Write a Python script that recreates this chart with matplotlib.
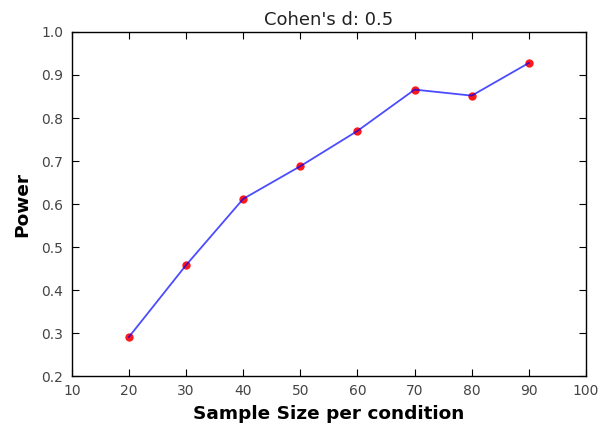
import matplotlib
matplotlib.use("Agg")
import matplotlib.pyplot as plt

sample_sizes = [20, 30, 40, 50, 60, 70, 80, 90]
power = [0.291, 0.458, 0.612, 0.688, 0.770, 0.866, 0.852, 0.928]
x_ticks = [10, 20, 30, 40, 50, 60, 70, 80, 90, 100]
y_ticks = [0.2, 0.3, 0.4, 0.5, 0.6, 0.7, 0.8, 0.9, 1.0]

plt.rcParams['font.family'] = ['DejaVu Sans']

fig = plt.figure(figsize=(5.98, 4.26), dpi=100)
ax = fig.add_axes([0.120, 0.117, 0.860, 0.808])

ax.plot(sample_sizes, power, 'o', color='red', markersize=6, markeredgewidth=0, alpha=0.9)
ax.plot(sample_sizes, power, '-', color='blue', linewidth=1.3, alpha=0.7)

ax.set_xlim(10, 100)
ax.set_ylim(0.2, 1.0)
ax.set_xticks(x_ticks)
ax.set_yticks(y_ticks)
ax.set_yticklabels([f"{v:.1f}" for v in y_ticks])
ax.tick_params(direction='in', top=True, right=True, length=5, width=0.8,
               labelsize=10, labelcolor='#444444', pad=6)
for s in ax.spines.values():
    s.set_linewidth(1.0)

ax.set_title("Cohen's d: 0.5", fontsize=13, color='#222222', pad=5)
ax.set_xlabel("Sample Size per condition", fontsize=13.3, fontweight='bold', labelpad=5)
ax.set_ylabel("Power", fontsize=13.3, fontweight='bold', labelpad=7)

fig.savefig("out.png", dpi=100)
